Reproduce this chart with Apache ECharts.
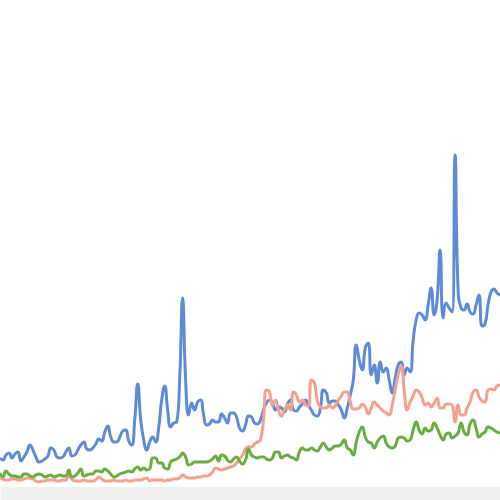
<!DOCTYPE html>
<html>
<head>
<meta charset="utf-8">
<script src="https://cdn.jsdelivr.net/npm/echarts@6/dist/echarts.min.js"></script>
<style>html,body{margin:0;padding:0;background:#fff}#c{width:500px;height:500px}</style>
</head>
<body>
<div id="c"></div>
<script>
var blueValues = [
29,27,32,34,29,33,35,26,30,35,
42,37,30,25,26,28,31,39,37,30,
29,30,35,39,31,32,37,42,45,38,
37,39,43,48,46,55,61,50,45,45,
50,56,57,46,42,67,103,67,47,37,
45,50,45,59,87,101,77,60,64,65,
107,189,107,72,84,77,85,87,72,62,
63,67,65,65,73,69,64,74,74,70,
59,56,62,71,70,64,63,67,77,84,
87,84,77,80,79,75,83,87,77,76,
80,83,87,82,77,72,71,79,97,94,
84,86,86,82,77,69,79,92,107,142,
127,117,139,144,112,122,104,125,115,119,
107,94,109,122,125,112,119,115,147,167,
174,172,167,182,199,172,187,237,169,184,
179,175,332,197,179,177,183,175,173,182,
192,161,163,182,195,198,194,192
];
var salmonValues = [
9,8,7,7,8,8,7,7,8,9,
9,8,6,5,6,6,7,7,7,6,
6,7,7,11,8,6,6,6,7,6,
6,6,7,10,8,6,6,6,7,6,
6,6,7,6,6,7,7,7,8,9,
6,7,7,7,7,6,7,7,8,8,
9,12,10,9,9,9,10,10,11,11,
12,15,19,18,17,18,19,20,21,24,
28,32,38,40,40,43,45,47,67,97,
95,82,87,77,71,77,82,77,95,92,
85,87,82,81,107,104,86,80,79,79,
82,79,81,87,91,95,95,85,78,78,
79,83,80,73,79,85,82,79,76,74,
72,82,97,112,121,97,77,85,91,97,
95,89,82,84,80,84,89,79,79,83,
83,82,65,82,72,72,79,85,95,97,
90,86,85,97,98,97,101,102
];
var greenValues = [
14,10,16,13,11,11,10,10,13,13,
11,10,12,13,12,10,11,12,10,11,
12,11,11,17,10,11,14,18,11,12,
13,13,16,16,15,18,16,13,10,11,
13,14,15,16,15,18,20,17,19,17,
18,29,29,24,24,19,18,25,27,28,
30,34,30,22,23,25,25,25,25,25,
26,28,31,26,32,31,27,25,28,30,
26,23,27,38,32,30,29,30,30,28,
27,29,35,35,29,31,32,30,29,27,
35,39,37,37,39,37,36,40,44,40,
37,39,41,41,43,47,39,37,32,45,
55,60,50,45,44,39,45,49,51,44,
40,39,41,49,50,49,46,47,57,65,
57,53,59,56,57,64,59,52,47,53,
54,49,51,54,64,55,52,63,67,59,
50,53,55,60,59,57,55,54
];
var categories = blueValues.map(function (_, i) { return String(i + 1); });

var chart = echarts.init(document.getElementById('c'), null, {renderer: 'canvas'});
function lineSeries(name, data, color) {
  return {
    name: name, type: 'line', data: data, smooth: true, showSymbol: false,
    lineStyle: {width: 3, color: color}, itemStyle: {color: color}
  };
}
chart.setOption({
  animation: false,
  backgroundColor: '#ffffff',
  grid: {left: 0, right: 0, top: 0, bottom: 13},
  xAxis: {type: 'category', data: categories, boundaryGap: false, show: false},
  yAxis: {type: 'value', min: 0, max: 487, show: false},
  dataZoom: [{
    type: 'slider', start: 0, end: 100, left: 0, right: 0, bottom: 0, height: 13,
    backgroundColor: '#efefef', borderColor: 'transparent', fillerColor: 'rgba(0,0,0,0)',
    showDetail: false, showDataShadow: false, brushSelect: false,
    handleSize: 0, handleStyle: {opacity: 0}, moveHandleSize: 0, zoomLock: true
  }],
  series: [
    lineSeries('A', blueValues, '#5d8bd8'),
    lineSeries('B', salmonValues, '#f5a08c'),
    lineSeries('C', greenValues, '#67ad42')
  ]
});
</script>
</body>
</html>
